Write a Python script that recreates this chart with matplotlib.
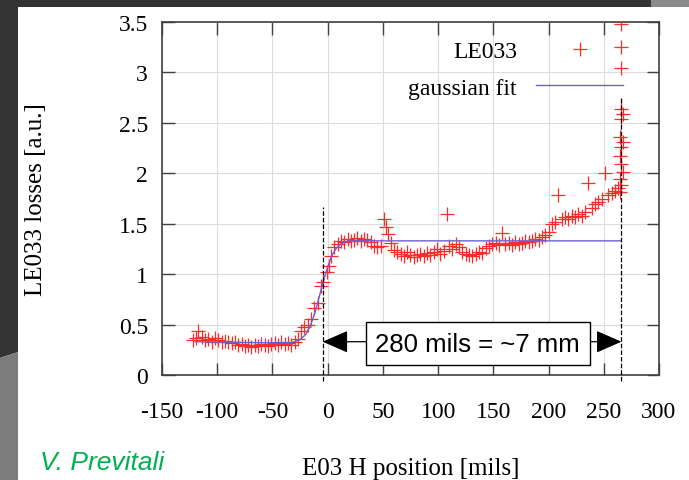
import matplotlib.pyplot as plt
from matplotlib.patches import Polygon
import numpy as np

plt.rcParams['axes.unicode_minus'] = False

# measured beam losses vs. position
pos = [-122, -119, -117, -114, -111, -108, -105, -102, -99, -96, -93, -90, -87, -84,
       -81, -78, -75, -72, -69, -66, -63, -60, -57, -54, -51, -48, -45, -42, -39,
       -36, -33, -30, -27, -24, -21, -18, -15, -12, -9, -6, -4, -1, 1, 3, 6, 9,
       12, 15, 18, 21, 24, 27, 30, 33, 36, 39, 42, 45, 48, 51, 53, 55, 57, 60,
       63, 66, 69, 72, 75, 78, 81, 84, 87, 90, 93, 96, 99, 102, 105, 108, 110,
       113, 116, 119, 122, 125, 128, 131, 134, 137, 140, 143, 146, 149, 152,
       155, 158, 161, 164, 167, 170, 173, 176, 179, 182, 185, 188, 191, 194,
       197, 200, 203, 206, 209, 212, 215, 218, 221, 224, 227, 230, 233, 236,
       239, 242, 245, 248, 251, 254, 257, 260, 263,
       265, 266, 265, 267, 266, 265, 266, 267, 265, 266, 267, 266, 266, 266, 266]
loss = [0.35, 0.37, 0.44, 0.38, 0.35, 0.36, 0.33, 0.37, 0.35, 0.33, 0.34, 0.33, 0.32, 0.33,
        0.30, 0.31, 0.29, 0.30, 0.28, 0.30, 0.29, 0.31, 0.30, 0.29, 0.31, 0.32, 0.30, 0.33, 0.31,
        0.32, 0.30, 0.33, 0.36, 0.44, 0.48, 0.50, 0.56, 0.66, 0.71, 0.88, 0.92, 1.02, 1.08, 1.18, 1.27, 1.30,
        1.33, 1.32, 1.35, 1.33, 1.34, 1.36, 1.33, 1.35, 1.34, 1.32, 1.28, 1.27, 1.28, 1.55, 1.47, 1.40, 1.31, 1.24,
        1.22, 1.20, 1.18, 1.22, 1.19, 1.17, 1.19, 1.20, 1.18, 1.21, 1.19, 1.22, 1.25, 1.20, 1.23, 1.60, 1.28,
        1.25, 1.30, 1.27, 1.22, 1.20, 1.19, 1.18, 1.20, 1.22, 1.21, 1.26, 1.28, 1.30, 1.31,
        1.29, 1.41, 1.30, 1.31, 1.29, 1.32, 1.30, 1.31, 1.33, 1.32, 1.33, 1.35, 1.34, 1.37,
        1.39, 1.42, 1.50, 1.52, 1.78, 1.55, 1.57, 1.55, 1.58, 1.57, 1.60, 1.58, 1.62, 1.90,
        1.66, 1.70, 1.72, 1.75, 2.00, 1.78, 1.80, 1.82, 1.85,
        1.81, 1.88, 1.94, 2.01, 2.09, 2.17, 2.26, 2.31, 2.36, 2.54, 2.59, 2.64, 3.04, 3.25, 3.48]

# gaussian (error function) fit
fit_pos = [-120, -60, -35, -30, -25, -20, -16, -12, -8, -4, 0, 4, 8, 12, 16, 20, 30, 265]
fit_loss = [0.33, 0.32, 0.32, 0.33, 0.35, 0.40, 0.48, 0.60, 0.76, 0.93, 1.07, 1.19, 1.26, 1.30,
            1.32, 1.33, 1.33, 1.33]

edge_left = -4.5
edge_right = 266
arrow_y = 0.33

W, H = 689, 481
fig = plt.figure(figsize=(W / 100, H / 100), dpi=100)
fig.patch.set_facecolor('white')

# slide background bits
def px(x, y):
    return (x / W, 1 - y / H)

fig.patches.append(Polygon([px(0, 0), px(689, 0), px(689, 8), px(18, 8), px(18, 353), px(0, 359)],
                           closed=True, transform=fig.transFigure, fc='#333333', ec='none', zorder=0))
fig.patches.append(Polygon([px(651, 0), px(689, 0), px(689, 8), px(651, 8)],
                           closed=True, transform=fig.transFigure, fc='#8a8a8a', ec='none', zorder=0))
fig.patches.append(Polygon([px(0, 359), px(18, 353), px(18, 481), px(0, 481)],
                           closed=True, transform=fig.transFigure, fc='#7c7c7c', ec='none', zorder=0))

ax = fig.add_axes([162 / W, 1 - 376 / H, (659 - 162) / W, (376 - 23) / H])
serif = 'Liberation Serif'

ax.plot(pos, loss, linestyle='none', marker='+', markersize=10, markeredgewidth=0.9,
        color='#ff2a2a', label='LE033', zorder=3)
ax.plot(fit_pos, fit_loss, color='#6a5fd8', lw=1.0, label='gaussian fit', zorder=4)

ax.set_xlim(-150, 300)
ax.set_ylim(0, 3.5)
ax.set_xticks(np.arange(-150, 301, 50))
ax.set_yticks(np.arange(0, 3.51, 0.5))
ax.set_yticklabels(['0', '0.5', '1', '1.5', '2', '2.5', '3', '3.5'])
ax.grid(True, color='#dcdcdc', lw=0.8)
ax.set_axisbelow(True)
ax.tick_params(direction='in', length=9, width=1, color='#404040', top=True, right=True,
               labelsize=17)
ax.tick_params(axis='x', pad=19)
ax.tick_params(axis='y', pad=10)
for lab in ax.get_xticklabels() + ax.get_yticklabels():
    lab.set_family(serif)
for s in ax.spines.values():
    s.set_color('#404040')
    s.set_linewidth(1.2)

ax.set_xlabel('E03 H position [mils]', family=serif, fontsize=18)
ax.xaxis.set_label_coords(0.5, -0.232)
ax.set_ylabel('LE033 losses [a.u.]', family=serif, fontsize=18)
ax.yaxis.set_label_coords(-0.231, 0.5)

leg = ax.legend(loc='upper right', bbox_to_anchor=(0.928, 0.948), markerfirst=False,
                frameon=False, borderaxespad=0, borderpad=0, handlelength=3.7,
                handletextpad=0.8, labelspacing=0.65, numpoints=1,
                prop={'family': serif, 'size': 17})

# marked edges and distance arrow
ax.plot([edge_left, edge_left], [-0.06, 1.67], color='black', ls='--', lw=0.9, clip_on=False, zorder=5)
ax.plot([edge_right, edge_right], [-0.06, 2.75], color='black', ls='--', lw=0.9, clip_on=False, zorder=5)
ax.annotate('', xy=(edge_left, arrow_y), xytext=(edge_right, arrow_y),
            arrowprops=dict(arrowstyle='<|-|>,head_length=0.8,head_width=0.35',
                            color='black', lw=0.9, mutation_scale=20, shrinkA=0, shrinkB=0),
            zorder=6)
ax.text(136, 0.31, '280 mils = ~7 mm', ha='center', va='center', fontsize=18.5,
        family='Liberation Sans', zorder=7,
        bbox=dict(boxstyle='square,pad=0.38', fc='white', ec='black', lw=1))

fig.text(40 / W, 1 - 463 / H, 'V. Previtali', color='#00b04f', style='italic',
         family='Liberation Sans', fontsize=19, va='center', ha='left')

fig.savefig('out.png', dpi=100)
